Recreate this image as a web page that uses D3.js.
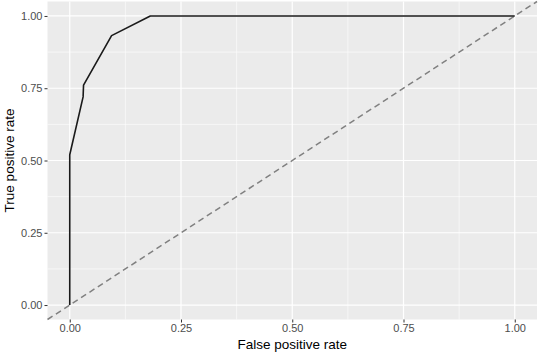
<!DOCTYPE html>
<html>
<head>
<meta charset="utf-8">
<script src="https://cdn.jsdelivr.net/npm/d3@7"></script>
<style>
  body { margin: 0; background: #fff; }
  text { font-family: "Liberation Sans", Arial, sans-serif; }
</style>
</head>
<body>
<script>
// ROC curve points
const fpr = [0, 0, 0.03, 0.031, 0.094, 0.181, 1];
const tpr = [0, 0.52, 0.72, 0.761, 0.932, 1, 1];
const ticks = [0, 0.25, 0.5, 0.75, 1];
const minorTicks = [0.125, 0.375, 0.625, 0.875];

const canvWidth = 540, canvHeight = 355;
const margin = {top: 1.5, right: 3, bottom: 35.5, left: 47.5};
const width = canvWidth - margin.left - margin.right;
const height = canvHeight - margin.top - margin.bottom;

const svg = d3.select("body").append("svg")
  .attr("width", canvWidth)
  .attr("height", canvHeight);

const g = svg.append("g")
  .attr("transform", `translate(${margin.left},${margin.top})`);

//scales (ggplot style expansion of 5%)
const xScale = d3.scaleLinear().domain([-0.05, 1.05]).range([0, width]);
const yScale = d3.scaleLinear().domain([-0.05, 1.05]).range([height, 0]);

//panel background
g.append("rect")
  .attr("width", width)
  .attr("height", height)
  .attr("fill", "#ebebeb");

//minor grid
g.selectAll(".minor-x").data(minorTicks).enter().append("line")
  .attr("x1", d => xScale(d)).attr("x2", d => xScale(d))
  .attr("y1", 0).attr("y2", height)
  .attr("stroke", "#fff").attr("stroke-width", 0.6);
g.selectAll(".minor-y").data(minorTicks).enter().append("line")
  .attr("y1", d => yScale(d)).attr("y2", d => yScale(d))
  .attr("x1", 0).attr("x2", width)
  .attr("stroke", "#fff").attr("stroke-width", 0.6);

//major grid
g.selectAll(".major-x").data(ticks).enter().append("line")
  .attr("x1", d => xScale(d)).attr("x2", d => xScale(d))
  .attr("y1", 0).attr("y2", height)
  .attr("stroke", "#fff").attr("stroke-width", 1.2);
g.selectAll(".major-y").data(ticks).enter().append("line")
  .attr("y1", d => yScale(d)).attr("y2", d => yScale(d))
  .attr("x1", 0).attr("x2", width)
  .attr("stroke", "#fff").attr("stroke-width", 1.2);

//diagonal reference line
g.append("line")
  .attr("x1", xScale(-0.05)).attr("y1", yScale(-0.05))
  .attr("x2", xScale(1.05)).attr("y2", yScale(1.05))
  .attr("stroke", "#808080")
  .attr("stroke-width", 1.5)
  .attr("stroke-dasharray", "6,4");

//roc curve
const line = d3.line().x(d => xScale(d[0])).y(d => yScale(d[1]));
g.append("path")
  .datum(d3.zip(fpr, tpr))
  .attr("d", line)
  .attr("fill", "none")
  .attr("stroke", "#1a1a1a")
  .attr("stroke-width", 1.6)
  .attr("stroke-linejoin", "round");

//axes
const xAxis = g.append("g")
  .attr("transform", `translate(0,${height})`)
  .call(d3.axisBottom(xScale).tickValues(ticks).tickFormat(d3.format(".2f")).tickSize(3).tickPadding(2));
const yAxis = g.append("g")
  .call(d3.axisLeft(yScale).tickValues(ticks).tickFormat(d3.format(".2f")).tickSize(3).tickPadding(2));

[xAxis, yAxis].forEach(a => {
  a.select(".domain").remove();
  a.selectAll(".tick line").attr("stroke", "#333").attr("stroke-width", 1);
  a.selectAll(".tick text")
    .attr("fill", "#4d4d4d")
    .attr("font-size", 11)
    .attr("font-family", "Liberation Sans, Arial, sans-serif");
});

//axis titles
svg.append("text")
  .attr("x", margin.left + width / 2)
  .attr("y", 349)
  .attr("text-anchor", "middle")
  .attr("font-size", 13.5)
  .attr("fill", "#000")
  .text("False positive rate");

svg.append("text")
  .attr("transform", `translate(14,${margin.top + height / 2}) rotate(-90)`)
  .attr("text-anchor", "middle")
  .attr("font-size", 13.5)
  .attr("fill", "#000")
  .text("True positive rate");
</script>
</body>
</html>
